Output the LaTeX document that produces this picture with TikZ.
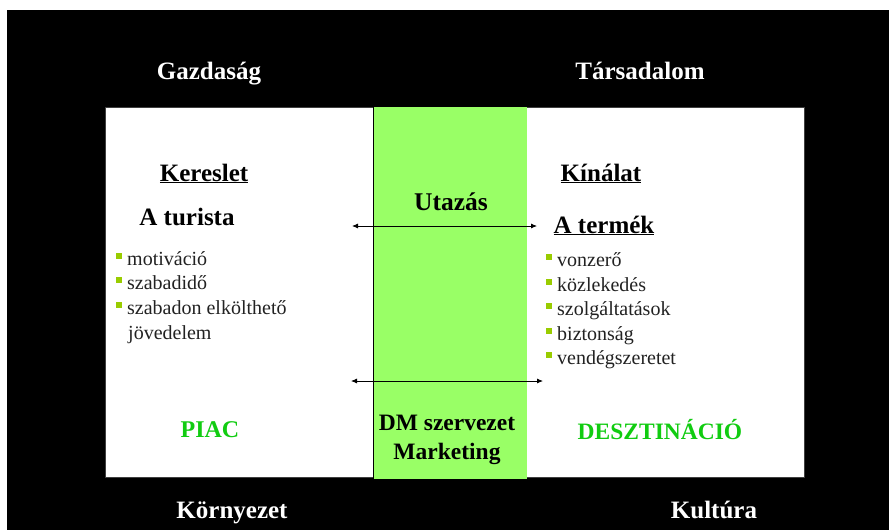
\documentclass[tikz,border=0pt]{standalone}
\usepackage{fontspec}
\setmainfont{Liberation Serif}
\usetikzlibrary{arrows.meta}
\definecolor{boxgreen}{HTML}{99FF66}
\definecolor{txtgreen}{HTML}{11CC11}
\definecolor{bulgreen}{HTML}{99CC00}
\definecolor{bodytxt}{HTML}{222222}
\newcommand{\bsq}{{\color{bulgreen}\rule[0.3em]{6pt}{6pt}}\hspace{5pt}}
\tikzset{
  corner/.style={font=\bfseries\fontsize{25}{28}\selectfont, text=white, anchor=base, inner sep=0pt},
  head/.style={font=\bfseries\fontsize{25}{28}\selectfont, text=black, anchor=base, inner sep=0pt},
  mark green/.style={font=\bfseries\fontsize{24}{28}\selectfont, text=txtgreen, anchor=base, inner sep=0pt},
  item/.style={font=\fontsize{20}{24}\selectfont, text=bodytxt, anchor=base west, inner sep=0pt},
  link/.style={draw=black, line width=0.8pt, {Latex[length=6pt,width=5pt]}-{Latex[length=6pt,width=5pt]}}
}
\begin{document}
\begin{tikzpicture}[x=1pt,y=-1pt]
\useasboundingbox (0,0) rectangle (889,530);
\fill[white] (0,0) rectangle (889,530);
\fill[black] (7,10) rectangle (889,530);
% main panels
\fill[white, draw=black!75, line width=0.6pt] (105,107) rectangle (804,477);
\fill[boxgreen] (373,107) rectangle (527,479);
\draw[black, line width=0.8pt] (373,107) -- (373,479);
% corner labels
\node[corner] (gaz) at (209,79) {Gazdaság};
\node[corner] (tar) at (640,79) {Társadalom};
\node[corner] (kor) at (232,518) {Környezet};
\node[corner] (kul) at (714,518) {Kultúra};
% left column
\node[head] (ker) at (204,181) {\underline{Kereslet}};
\node[head] (tur) at (187,225) {A turista};
\node[item] (l1) at (116,265) {\bsq motiváció};
\node[item] (l2) at (116,289) {\bsq szabadidő};
\node[item] (l3) at (116,314) {\bsq szabadon elkölthető};
\node[item] (l4) at (128,339) {jövedelem};
\node[mark green] (piac) at (210,437) {PIAC};
% centre column
\node[head, font=\bfseries\fontsize{25.5}{28}\selectfont] (uta) at (451,210) {Utazás};
\node[head, font=\bfseries\fontsize{23.5}{27}\selectfont] (dm) at (447,430) {DM szervezet};
\node[head, font=\bfseries\fontsize{23.5}{27}\selectfont] (mkt) at (447,459) {Marketing};
% right column
\node[head] (kin) at (601,181) {\underline{Kínálat}};
\node[head] (ter) at (604,233) {\underline{A termék}};
\node[item] (r1) at (546,266) {\bsq vonzerő};
\node[item] (r2) at (546,291) {\bsq közlekedés};
\node[item] (r3) at (546,315) {\bsq szolgáltatások};
\node[item] (r4) at (546,340) {\bsq biztonság};
\node[item] (r5) at (546,364) {\bsq vendégszeretet};
\node[mark green, font=\bfseries\fontsize{23.5}{27}\selectfont] (dest) at (660,439) {DESZTINÁCIÓ};
% arrows
\coordinate (a1l) at (352,226);
\coordinate (a1r) at (537,226);
\coordinate (a2l) at (351,381);
\coordinate (a2r) at (543,381);
\draw[link] (a1l) -- (a1r);
\draw[link] (a2l) -- (a2r);
\end{tikzpicture}
\end{document}
